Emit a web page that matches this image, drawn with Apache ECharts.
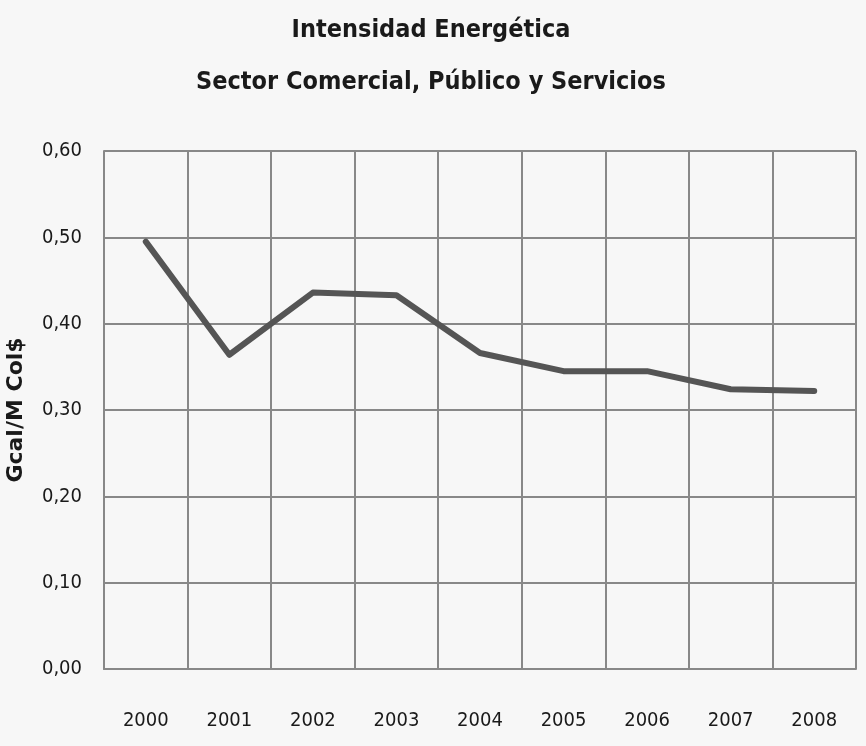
<!DOCTYPE html>
<html><head><meta charset="utf-8">
<script src="https://cdn.jsdelivr.net/npm/echarts@6/dist/echarts.min.js"></script>
<style>html,body{margin:0;padding:0;background:#f7f7f7}#c{width:866px;height:746px}</style>
</head><body><div id="c"></div>
<script>
const categories = ['2000','2001','2002','2003','2004','2005','2006','2007','2008'];
const values = [0.495, 0.364, 0.436, 0.433, 0.366, 0.345, 0.345, 0.324, 0.322];
const titleLines = ['Intensidad Energética', 'Sector Comercial, Público y Servicios'];
const yName = 'Gcal/M Col$';

const chart = echarts.init(document.getElementById('c'));
const fmt = v => v.toFixed(2).replace('.', ',');
chart.setOption({
  backgroundColor: '#f7f7f7',
  animation: false,
  title: {
    text: titleLines.join('\n'),
    left: 426, top: -1, textAlign: 'center',
    textStyle: { fontFamily: 'DejaVu Sans Condensed', fontSize: 25, fontWeight: 'bold', color: '#1a1a1a', lineHeight: 52 }
  },
  grid: { left: 104, right: 10, top: 151, bottom: 77, containLabel: false, outerBoundsMode: 'none' },
  xAxis: {
    type: 'category', data: categories, boundaryGap: true,
    axisLine: { lineStyle: { color: '#888888', width: 2 } },
    axisTick: { show: false },
    splitLine: { show: true, interval: 0, lineStyle: { color: '#888888', width: 2 } },
    axisLabel: { color: '#1a1a1a', fontSize: 20, margin: 42, fontFamily: 'DejaVu Sans Condensed' }
  },
  yAxis: {
    type: 'value', min: 0, max: 0.6, interval: 0.1,
    name: yName, nameLocation: 'middle', nameGap: 77, nameRotate: 90,
    nameTextStyle: { fontFamily: 'DejaVu Sans', fontWeight: 'bold', fontSize: 22, color: '#1a1a1a' },
    axisLine: { show: true, lineStyle: { color: '#888888', width: 2 } },
    axisTick: { show: false },
    splitLine: { lineStyle: { color: '#888888', width: 2 } },
    axisLabel: { formatter: fmt, color: '#1a1a1a', fontSize: 20, margin: 22, fontFamily: 'DejaVu Sans Condensed' }
  },
  series: [{
    type: 'line', data: values, symbol: 'none',
    lineStyle: { color: '#555555', width: 6, join: 'round', cap: 'round' }
  }]
});
</script></body></html>
